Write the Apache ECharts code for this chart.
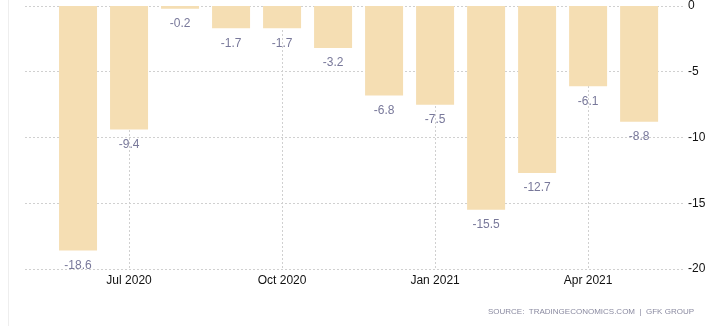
<!DOCTYPE html>
<html>
<head>
<meta charset="utf-8">
<script src="https://cdn.jsdelivr.net/npm/echarts@6/dist/echarts.min.js"></script>
<style>html,body{margin:0;padding:0;background:#fff}#c{width:714px;height:326px}</style>
</head>
<body>
<div id="c"></div>
<script>
const categories = ['Jun 2020','Jul 2020','Aug 2020','Sep 2020','Oct 2020','Nov 2020','Dec 2020','Jan 2021','Feb 2021','Mar 2021','Apr 2021','May 2021'];
const values = [-18.6, -9.4, -0.2, -1.7, -1.7, -3.2, -6.8, -7.5, -15.5, -12.7, -6.1, -8.8];
const xTickIndex = [1, 4, 7, 10];
const xTickLabels = ['Jul 2020', 'Oct 2020', 'Jan 2021', 'Apr 2021'];
const yTicks = [0, -5, -10, -15, -20];
const sourceText = 'SOURCE:  TRADINGECONOMICS.COM  |  GFK GROUP';

const chart = echarts.init(document.getElementById('c'));
const font = 'Arial, "Liberation Sans", sans-serif';
chart.setOption({
  animation: false,
  grid: { left: 25, right: 30, top: 5, bottom: 57 },
  xAxis: {
    type: 'value',
    min: -1.04,
    max: 11.88,
    axisLine: { show: false },
    axisTick: { show: true, customValues: xTickIndex, length: 6, lineStyle: { color: '#d0d0d0', type: [2, 2] } },
    axisLabel: {
      customValues: xTickIndex,
      formatter: v => xTickLabels[xTickIndex.indexOf(Math.round(v))] || '',
      color: '#111', fontFamily: font, fontSize: 12, margin: 6
    },
    splitLine: { show: true, lineStyle: { color: '#d0d0d0', type: [2, 2], width: 1 } }
  },
  yAxis: {
    type: 'value',
    position: 'right',
    min: -20, max: 0, interval: 5,
    axisLine: { show: false },
    axisTick: { show: false },
    axisLabel: { color: '#111', fontFamily: font, fontSize: 12, margin: 4, formatter: v => String(v) },
    splitLine: { show: true, lineStyle: { color: '#d0d0d0', type: [2, 2], width: 1 } }
  },
  graphic: [
    { type: 'line', shape: { x1: 8.5, y1: 0, x2: 8.5, y2: 326 }, style: { stroke: '#eeeeee', lineWidth: 1 }, silent: true },
    { type: 'text', right: 20, bottom: 10, style: { text: sourceText, fill: '#8a8aa0', font: '8px ' + font } }
  ],
  series: [{
    type: 'bar',
    barWidth: 38,
    data: values.map((v, i) => [i, v]),
    itemStyle: { color: '#F5DEB3' },
    label: {
      show: true, position: 'bottom', distance: 9,
      color: '#78789a', fontFamily: font, fontSize: 12,
      formatter: p => p.value[1].toFixed(1)
    }
  }]
});
</script>
</body>
</html>
